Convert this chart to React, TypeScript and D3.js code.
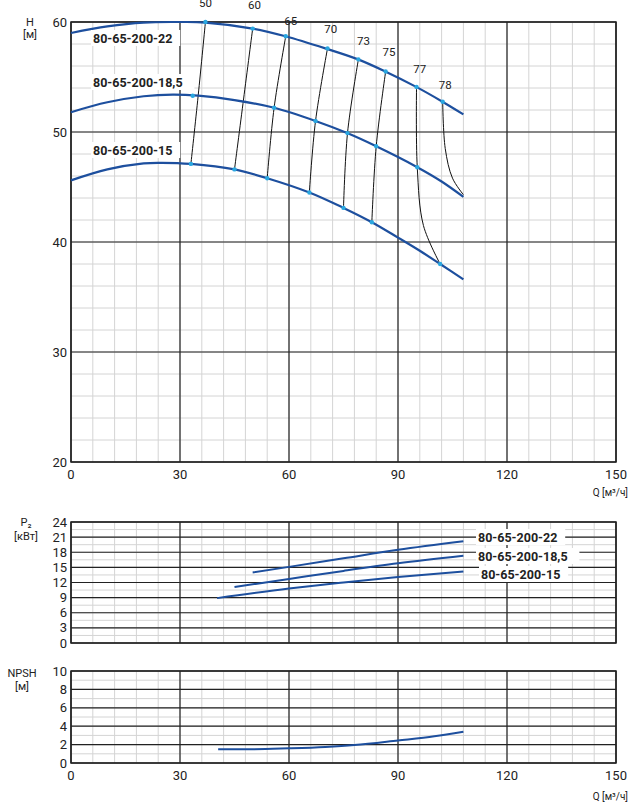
import * as d3 from 'd3';
import React from 'react';

const models = ['80-65-200-22', '80-65-200-18,5', '80-65-200-15'];

// H(Q) curves [Q, H]
const head22: [number, number][] = [[0, 59], [10, 59.6], [20, 59.95], [30, 60], [37, 59.95], [50, 59.4], [59, 58.7], [70, 57.6], [79, 56.6], [86.5, 55.5], [95, 54.1], [102, 52.8], [108, 51.6]];
const head185: [number, number][] = [[0, 51.8], [10, 52.7], [20, 53.25], [28, 53.4], [35, 53.3], [45, 52.9], [55.9, 52.2], [67.3, 51], [76, 49.9], [84, 48.7], [95.3, 46.8], [102, 45.5], [108, 44.1]];
const head15: [number, number][] = [[0, 45.6], [10, 46.6], [20, 47.15], [25, 47.2], [33, 47.1], [45, 46.6], [54, 45.8], [65.6, 44.5], [75, 43.1], [82.8, 41.8], [90, 40.4], [96, 39.2], [101.6, 38.0], [108, 36.6]];

// efficiency iso-lines (points top to bottom)
const effLabels = ['50', '60', '65', '70', '73', '75', '77', '78'];
const effLines: [number, number][][] = [
  [[37, 60], [35, 53.3], [33, 47.1]],
  [[50, 59.4], [47.5, 53], [45, 46.6]],
  [[59.1, 58.7], [55.9, 52.2], [54, 45.8]],
  [[70.6, 57.6], [67.3, 51], [65.6, 44.5]],
  [[79.1, 56.6], [76.1, 49.9], [75, 43.1]],
  [[86.6, 55.5], [84, 48.7], [82.8, 41.8]],
  [[95.1, 54.1], [95.3, 46.8], [97, 41.5], [101.6, 38.0]],
  [[102.3, 52.75], [103, 48.5], [105, 45.8], [108, 44.3]],
];
const effDots: [number, number][] = [
  [37, 60], [33.5, 53.3], [33, 47.1], [50, 59.4], [45, 46.6], [59.1, 58.7], [55.9, 52.2], [54, 45.8],
  [70.6, 57.6], [67.3, 51], [65.6, 44.5], [79.1, 56.6], [76.1, 49.9], [75, 43.1],
  [86.6, 55.5], [84, 48.7], [82.8, 41.8], [95.1, 54.1], [95.3, 46.8], [101.6, 38.0], [102.3, 52.75],
];
const effLabelAt: [number, number][] = [[37, 61.4], [50.5, 61.2], [60.5, 59.7], [71.5, 59], [80.5, 57.9], [87.5, 56.9], [96, 55.4], [103, 53.9]];

// P2(Q)
const power22: [number, number][] = [[50, 14], [60, 15.1], [75, 16.8], [90, 18.5], [108, 20.2]];
const power185: [number, number][] = [[45, 11.1], [60, 12.7], [75, 14.3], [90, 15.8], [108, 17.3]];
const power15: [number, number][] = [[40.2, 8.9], [60, 10.8], [75, 12], [90, 13.1], [108, 14.2]];

// NPSH(Q)
const npsh: [number, number][] = [[40.5, 1.5], [50, 1.5], [60, 1.6], [70, 1.75], [78, 1.95], [90, 2.45], [100, 2.9], [108, 3.4]];

const qTicks = [0, 30, 60, 90, 120, 150];
const hTicks = [20, 30, 40, 50, 60];
const pTicks = [0, 3, 6, 9, 12, 15, 18, 21, 24];
const nTicks = [0, 2, 4, 6, 8, 10];

const BLUE = '#1d4f9e';
const DOT = '#2aa7e0';
const FONT = 'Roboto, sans-serif';

const x = d3.scaleLinear().domain([0, 150]).range([71, 616]);
const yH = d3.scaleLinear().domain([20, 60]).range([462, 22]);
const yP = d3.scaleLinear().domain([0, 24]).range([643, 522]);
const yN = d3.scaleLinear().domain([0, 10]).range([763, 671]);

const Grid = ({ y, minorY, majorY, minorX }: any) => {
  const [y0, y1] = y.range();
  return (
    <g>
      {d3.range(0, 150.01, minorX).map((q) => (
        <line key={'vx' + q} x1={x(q)} x2={x(q)} y1={y0} y2={y1} stroke="#d4d4d4" />
      ))}
      {minorY.map((v: number) => (
        <line key={'hy' + v} x1={x(0)} x2={x(150)} y1={y(v)} y2={y(v)} stroke="#d4d4d4" />
      ))}
      {qTicks.map((q) => (
        <line key={'mx' + q} x1={x(q)} x2={x(q)} y1={y0} y2={y1} stroke="#222" strokeWidth={1.2} />
      ))}
      {majorY.map((v: number) => (
        <line key={'my' + v} x1={x(0)} x2={x(150)} y1={y(v)} y2={y(v)} stroke="#222" strokeWidth={1.2} />
      ))}
      <rect x={x(0)} y={y1} width={x(150) - x(0)} height={y0 - y1} fill="none" stroke="#222" strokeWidth={1.5} />
      {majorY.map((v: number) => (
        <text key={'t' + v} x={x(0) - 4} y={y(v)} textAnchor="end" dominantBaseline="central" fontSize={13}>{v}</text>
      ))}
    </g>
  );
};

const Label = ({ tx, ty, text }: any) => {
  const w = text.length * 7.1 + 4;
  return (
    <g>
      <rect x={tx - 2} y={ty - 8} width={w} height={16} fill="white" />
      <text x={tx} y={ty} dominantBaseline="central" fontSize={12.5} fontWeight="bold">{text}</text>
    </g>
  );
};

export default function App() {
  const lineH = d3.line<[number, number]>().x((d) => x(d[0])).y((d) => yH(d[1])).curve(d3.curveCatmullRom);
  const lineEff = d3.line<[number, number]>().x((d) => x(d[0])).y((d) => yH(d[1])).curve(d3.curveCatmullRom);
  const lineP = d3.line<[number, number]>().x((d) => x(d[0])).y((d) => yP(d[1])).curve(d3.curveMonotoneX);
  const lineN = d3.line<[number, number]>().x((d) => x(d[0])).y((d) => yN(d[1])).curve(d3.curveMonotoneX);

  return (
    <svg width={643} height={808} style={{ position: 'absolute', left: 0, top: 0 }} fontFamily={FONT} fill="#222">
      <Grid y={yH} minorY={d3.range(20, 60.01, 2)} majorY={hTicks} minorX={6} />
      <Grid y={yP} minorY={d3.range(0, 24.01, 1.5)} majorY={pTicks} minorX={6} />
      <Grid y={yN} minorY={d3.range(0, 10.01, 1)} majorY={nTicks} minorX={6} />

      {qTicks.map((q) => (
        <g key={q}>
          <text x={x(q)} y={479} textAnchor="middle" fontSize={13}>{q}</text>
          <text x={x(q)} y={780} textAnchor="middle" fontSize={13}>{q}</text>
        </g>
      ))}
      <text x={628} y={496} textAnchor="end" fontSize={10}>Q [м³/ч]</text>
      <text x={628} y={800} textAnchor="end" fontSize={10}>Q [м³/ч]</text>
      <text x={30} y={26} textAnchor="middle" fontSize={11}>H</text>
      <text x={30} y={38} textAnchor="middle" fontSize={11}>[м]</text>
      <text x={26} y={526} textAnchor="middle" fontSize={11}>P₂</text>
      <text x={26} y={540} textAnchor="middle" fontSize={11}>[кВт]</text>
      <text x={22} y={677} textAnchor="middle" fontSize={11}>NPSH</text>
      <text x={22} y={690} textAnchor="middle" fontSize={11}>[м]</text>

      {effLines.map((l, i) => (
        <path key={i} d={lineEff(l) as string} fill="none" stroke="#111" strokeWidth={1} />
      ))}
      {[head22, head185, head15].map((c, i) => (
        <path key={i} d={lineH(c) as string} fill="none" stroke={BLUE} strokeWidth={2.2} />
      ))}
      {effDots.map((d, i) => (
        <circle key={i} cx={x(d[0])} cy={yH(d[1])} r={2.2} fill={DOT} />
      ))}
      {effLabels.map((t, i) => (
        <text key={t} x={x(effLabelAt[i][0])} y={yH(effLabelAt[i][1])} textAnchor="middle" fontSize={11.5}>{t}</text>
      ))}
      <Label tx={93} ty={38} text={models[0]} />
      <Label tx={93} ty={82} text={models[1]} />
      <Label tx={93} ty={150} text={models[2]} />

      {[power22, power185, power15].map((c, i) => (
        <path key={i} d={lineP(c) as string} fill="none" stroke={BLUE} strokeWidth={2} />
      ))}
      <Label tx={478} ty={537} text={models[0]} />
      <Label tx={478} ty={556} text={models[1]} />
      <Label tx={481} ty={574} text={models[2]} />

      <path d={lineN(npsh) as string} fill="none" stroke={BLUE} strokeWidth={2} />
    </svg>
  );
}
